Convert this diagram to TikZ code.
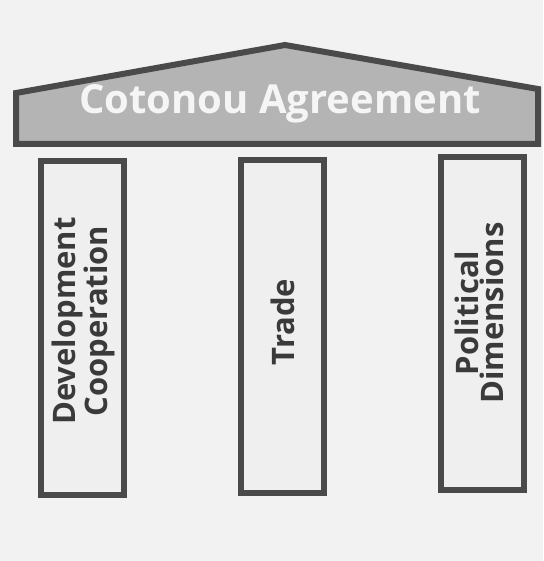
\documentclass[tikz,border=0pt]{standalone}
\usepackage{fontspec}
\setmainfont{Open Sans}
\definecolor{bg}{HTML}{F2F2F2}
\definecolor{edge}{HTML}{4A4A4A}
\definecolor{roofgray}{HTML}{B4B4B4}
\definecolor{pillarfill}{HTML}{EFEFEF}
\definecolor{txt}{HTML}{3A3A3A}
\tikzset{
  pillar/.style={draw=edge, line width=6pt, fill=pillarfill},
  pillartext/.style={rotate=90, text=txt, font=\fontsize{31}{25}\selectfont\bfseries, align=center, inner sep=0pt},
}
\begin{document}
\begin{tikzpicture}[x=1pt,y=-1pt]
\fill[bg] (0,0) rectangle (543,561);
\useasboundingbox (0,0) rectangle (543,561);
\draw[draw=edge, line width=6pt, fill=roofgray, line join=miter]
  (16,93) -- (285,45) -- (538,89) -- (538,144) -- (16,144) -- cycle;
\node[text=white!92!gray, font=\fontsize{40}{42}\selectfont\bfseries] (title) at (280,104) {Cotonou Agreement};
\draw[pillar] (41,161) rectangle (124,495);
\draw[pillar] (241,160) rectangle (324,493);
\draw[pillar] (441,157) rectangle (524,490);
\node[pillartext] (dev) at (83,321) {Development\\Cooperation};
\node[pillartext] (trade) at (283,322) {Trade};
\node[pillartext] (pol) at (479,313) {Political\\Dimensions};
\end{tikzpicture}
\end{document}
